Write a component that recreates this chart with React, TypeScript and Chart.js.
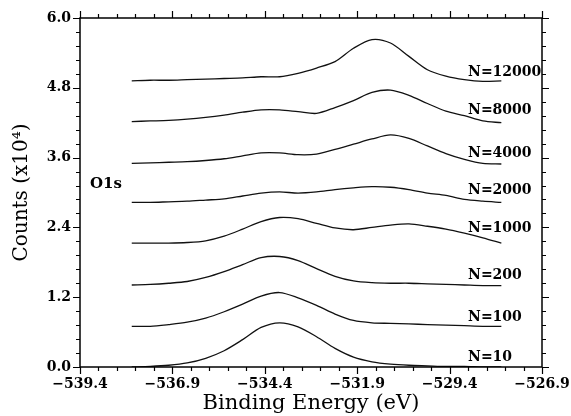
import React, { useEffect, useRef } from "react";
import { Chart, registerables } from "chart.js";

Chart.register(...registerables);

// Binding energy sample positions (eV)
const energies = [
  -538.0, -537.5, -537.0, -536.5, -536.0, -535.5, -535.0, -534.5, -534.0, -533.5, -533.0,
  -532.5, -532.0, -531.5, -531.0, -530.5, -530.0, -529.5, -529.0, -528.5, -528.0,
];

// Counts (x10^4), offset spectra as plotted
const n10 = [0.0, 0.01, 0.03, 0.07, 0.15, 0.28, 0.47, 0.68, 0.76, 0.69, 0.52, 0.32, 0.17, 0.09, 0.05, 0.03, 0.02, 0.01, 0.01, 0.0, 0.0];
const n100 = [0.7, 0.7, 0.73, 0.77, 0.84, 0.95, 1.08, 1.22, 1.28, 1.19, 1.06, 0.91, 0.8, 0.76, 0.75, 0.74, 0.73, 0.72, 0.71, 0.7, 0.7];
const n200 = [1.41, 1.42, 1.44, 1.47, 1.54, 1.64, 1.76, 1.88, 1.9, 1.83, 1.69, 1.56, 1.48, 1.45, 1.44, 1.44, 1.43, 1.42, 1.41, 1.4, 1.4];
const n1000 = [2.13, 2.13, 2.13, 2.14, 2.17, 2.25, 2.37, 2.5, 2.57, 2.55, 2.47, 2.39, 2.36, 2.4, 2.44, 2.46, 2.42, 2.37, 2.3, 2.22, 2.13];
const n2000 = [2.83, 2.83, 2.84, 2.85, 2.87, 2.89, 2.94, 2.99, 3.01, 2.99, 3.01, 3.05, 3.08, 3.1, 3.09, 3.05, 2.99, 2.95, 2.88, 2.85, 2.83];
const n4000 = [3.5, 3.51, 3.52, 3.53, 3.55, 3.58, 3.63, 3.68, 3.68, 3.65, 3.66, 3.74, 3.83, 3.92, 3.99, 3.93, 3.8, 3.67, 3.57, 3.5, 3.49];
const n8000 = [4.22, 4.23, 4.24, 4.26, 4.29, 4.33, 4.38, 4.42, 4.42, 4.39, 4.36, 4.46, 4.58, 4.72, 4.76, 4.67, 4.53, 4.4, 4.32, 4.23, 4.2];
const n12000 = [4.92, 4.93, 4.93, 4.94, 4.95, 4.96, 4.97, 4.99, 4.99, 5.05, 5.14, 5.25, 5.48, 5.63, 5.57, 5.34, 5.11, 5.0, 4.94, 4.91, 4.92];

const seriesValues = [n10, n100, n200, n1000, n2000, n4000, n8000, n12000];
const seriesNames = ["N=10", "N=100", "N=200", "N=1000", "N=2000", "N=4000", "N=8000", "N=12000"];
// label anchor heights (data units) for each series name
const labelHeights = [0.16, 0.85, 1.57, 2.39, 3.04, 3.68, 4.42, 5.07];
const labelEnergy = -528.9;

const annotationText = "O1s";
const annotationEnergy = -539.13;
const annotationHeight = 3.15;

const xTickValues = [-539.4, -536.9, -534.4, -531.9, -529.4, -526.9];
const yTickValues = [0.0, 1.2, 2.4, 3.6, 4.8, 6.0];
const xMinorStep = 0.5;
const yMinorStep = 0.24;

const FONT = "'DejaVu Serif', 'Liberation Serif', serif";

const fmt = (v: number) => (v < 0 ? "\u2212" + Math.abs(v).toFixed(1) : v.toFixed(1));

const framePlugin = {
  id: "frameTicks",
  afterDraw(chart: any) {
    const ctx = chart.ctx;
    const { left, right, top, bottom } = chart.chartArea;
    const xs = chart.scales.x;
    const ys = chart.scales.y;
    ctx.save();
    ctx.strokeStyle = "#000";
    ctx.lineWidth = 1.5;
    ctx.strokeRect(left, top, right - left, bottom - top);
    ctx.lineWidth = 1.2;
    const nx = Math.round((xs.max - xs.min) / xMinorStep);
    for (let i = 0; i <= nx; i++) {
      const v = xs.min + i * xMinorStep;
      const px = Math.round(xs.getPixelForValue(v)) + 0.5;
      const len = i % 5 === 0 ? 7 : 4;
      ctx.beginPath();
      ctx.moveTo(px, bottom);
      ctx.lineTo(px, bottom + len);
      ctx.moveTo(px, top);
      ctx.lineTo(px, top - len);
      ctx.stroke();
    }
    const ny = Math.round((ys.max - ys.min) / yMinorStep);
    for (let i = 0; i <= ny; i++) {
      const v = ys.min + i * yMinorStep;
      const py = Math.round(ys.getPixelForValue(v)) + 0.5;
      const len = i % 5 === 0 ? 7 : 4;
      ctx.beginPath();
      ctx.moveTo(left, py);
      ctx.lineTo(left - len, py);
      ctx.moveTo(right, py);
      ctx.lineTo(right + len, py);
      ctx.stroke();
    }
    ctx.fillStyle = "#000";
    ctx.textBaseline = "middle";
    ctx.textAlign = "left";
    ctx.font = `bold 14px ${FONT}`;
    seriesNames.forEach((name, i) => {
      ctx.fillText(name, xs.getPixelForValue(labelEnergy), ys.getPixelForValue(labelHeights[i]));
    });
    ctx.font = `bold 15px ${FONT}`;
    ctx.fillText(annotationText, xs.getPixelForValue(annotationEnergy), ys.getPixelForValue(annotationHeight));
    ctx.restore();
  },
};

export default function App() {
  const ref = useRef<HTMLCanvasElement | null>(null);
  useEffect(() => {
    if (!ref.current) return;
    const chart = new Chart(ref.current, {
      type: "line",
      data: {
        datasets: seriesValues.map((vals, i) => ({
          label: seriesNames[i],
          data: energies.map((e, j) => ({ x: e, y: vals[j] })),
          borderColor: "#111",
          borderWidth: 1.3,
          pointRadius: 0,
          tension: 0.3,
          fill: false,
        })),
      },
      options: {
        animation: false,
        responsive: true,
        maintainAspectRatio: false,
        layout: { padding: { left: 10, top: 18, right: 29, bottom: 0 } },
        plugins: { legend: { display: false }, tooltip: { enabled: false } },
        scales: {
          x: {
            type: "linear",
            min: -539.4,
            max: -526.9,
            afterBuildTicks: (s: any) => {
              s.ticks = xTickValues.map((v) => ({ value: v }));
            },
            afterFit: (s: any) => {
              s.height = 49;
              s.paddingLeft = 0;
              s.paddingRight = 0;
            },
            ticks: {
              callback: (v: any) => fmt(Number(v)),
              font: { family: FONT, size: 14, weight: "bold" },
              color: "#000",
              padding: 9,
              maxRotation: 0,
              autoSkip: false,
            },
            grid: { display: false, drawTicks: false },
            border: { display: false },
            title: {
              display: true,
              text: "Binding Energy (eV)",
              font: { family: FONT, size: 21 },
              color: "#000",
              padding: 0,
            },
          },
          y: {
            type: "linear",
            min: 0,
            max: 6,
            afterBuildTicks: (s: any) => {
              s.ticks = yTickValues.map((v) => ({ value: v }));
            },
            afterFit: (s: any) => {
              s.width = 70;
              s.paddingTop = 0;
              s.paddingBottom = 0;
            },
            ticks: {
              callback: (v: any) => fmt(Number(v)),
              font: { family: FONT, size: 14, weight: "bold" },
              color: "#000",
              padding: 9,
              autoSkip: false,
            },
            grid: { display: false, drawTicks: false },
            border: { display: false },
            title: {
              display: true,
              text: "Counts (x10\u2074)",
              font: { family: FONT, size: 20 },
              color: "#000",
              padding: 0,
            },
          },
        },
      },
      plugins: [framePlugin],
    });
    return () => chart.destroy();
  }, []);
  return (
    <div style={{ position: "fixed", left: 0, top: 0, width: 571, height: 416, background: "#fff" }}>
      <canvas ref={ref} />
    </div>
  );
}
